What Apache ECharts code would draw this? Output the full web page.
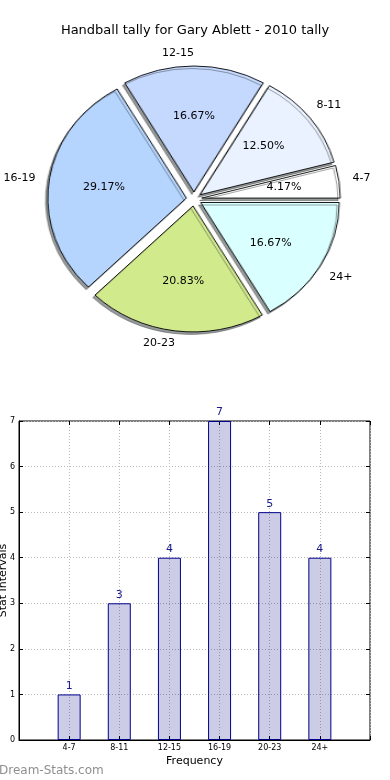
<!DOCTYPE html>
<html><head><meta charset="utf-8">
<script src="https://cdn.jsdelivr.net/npm/echarts@6/dist/echarts.min.js"></script>
<style>
html,body{margin:0;padding:0;background:#fff}
#wrap{position:relative;width:390px;height:780px;overflow:hidden}
#pie{position:absolute;left:0;top:0;width:390px;height:400px;transform:scaleX(1.1);transform-origin:194px 199px;z-index:0}
#c{position:absolute;left:0;top:0;width:390px;height:780px;z-index:1}
</style>
</head><body><div id="wrap"><div id="pie"></div><div id="c"></div></div>
<script>
const categories = ['4-7','8-11','12-15','16-19','20-23','24+'];
const counts = [1,3,4,7,5,4];
const sliceColors = ['#ffffff','#eaf1ff','#c5d9ff','#b5d5ff','#d1ea8c','#d9ffff'];
const yTicks = [0,1,2,3,4,5,6,7];
const titleText = 'Handball tally for Gary Ablett - 2010 tally';

const total = counts.reduce((a,b)=>a+b,0);
const FONT = 'DejaVu Sans';
const CX = 194, CY = 199;
const RY = 126;          // vertical radius of the pie in px
const SX = 1.1;          // horizontal stretch (pie drawn as ellipse)
const OFF = 7;           // explode offset in px (vertical units)
const EXPL = OFF / RY;   // explode in radius units

// mid angle of each slice (degrees, counter-clockwise from 3 o'clock)
const midAngles = [];
{ let cum = 0; counts.forEach(v => { midAngles.push((cum + v/2) / total * 360); cum += v; }); }
function ellipseR(deg, a, b){
  const t = deg * Math.PI / 180, c = Math.cos(t), s = Math.sin(t);
  return 1 / Math.sqrt(c*c/(a*a) + s*s/(b*b));
}
const NAME_BASE = 100, PCT_BASE = 40;
const nameData = categories.map((c,i)=>({name:c, value:counts[i],
  labelLine:{length: ellipseR(midAngles[i], (1.1+EXPL)*RY*SX, (1.1+EXPL)*RY) - NAME_BASE, length2:0}}));
const pctData = categories.map((c,i)=>({name:c, value:counts[i],
  labelLine:{length: ellipseR(midAngles[i], (0.6+EXPL)*RY*SX, (0.6+EXPL)*RY) - PCT_BASE, length2:0}}));
const pieData = categories.map((c,i)=>({name:c, value:counts[i], selected:true,
  itemStyle:{color:sliceColors[i]}}));

// ---- the pie wedges (drawn in a horizontally stretched layer) ----
const pieChart = echarts.init(document.getElementById('pie'), null, {renderer:'canvas'});
pieChart.setOption({
  animation:false,
  series:[{type:'pie', center:[CX,CY], radius:RY, startAngle:0, clockwise:false,
     selectedMode:'multiple', selectedOffset:OFF, avoidLabelOverlap:false,
     emphasis:{disabled:true}, silent:true,
     itemStyle:{borderColor:'#000', borderWidth:0.9, shadowColor:'rgba(50,55,55,0.5)', shadowBlur:0, shadowOffsetX:-2, shadowOffsetY:2.5},
     select:{itemStyle:{borderColor:'#000', borderWidth:0.9}},
     label:{show:false}, labelLine:{show:false},
     data:pieData}]
});

// ---- title, pie labels and the bar chart ----
const chart = echarts.init(document.getElementById('c'), null, {renderer:'canvas'});
const transparentPie = {type:'pie', center:[CX,CY], startAngle:0, clockwise:false,
     avoidLabelOverlap:false, emphasis:{disabled:true}, silent:true,
     itemStyle:{color:'rgba(0,0,0,0)', borderWidth:0}};
chart.setOption({
  animation:false,
  backgroundColor:'transparent',
  title:{text:titleText, left:'center', top:19,
    textStyle:{fontFamily:FONT, fontSize:13, fontWeight:'normal', color:'#000'}},
  graphic:[{type:'text', left:-1, top:765, silent:true,
    style:{text:'Dream-Stats.com', fill:'#8f8f8f', font:'12px "'+FONT+'"'}}],
  grid:{left:19, top:421, width:351, height:319, outerBoundsMode:'none', containLabel:false,
    show:true, borderColor:'#000', borderWidth:1, backgroundColor:'transparent'},
  xAxis:[{type:'value', min:-1, max:6, interval:1, position:'bottom',
    name:'Frequency', nameLocation:'middle', nameGap:16,
    nameTextStyle:{fontFamily:FONT, fontSize:11, color:'#000'},
    axisLine:{show:true, onZero:false, lineStyle:{color:'#000'}},
    axisTick:{show:true, inside:true, length:4, lineStyle:{color:'#000'}},
    axisLabel:{fontFamily:FONT, fontSize:8, color:'#000', margin:4,
      formatter:v=> (categories[v] !== undefined ? categories[v] : '')},
    splitLine:{show:true, lineStyle:{color:'#b8b8b8', type:[1,2], width:1}}},
    {type:'value', min:-1, max:6, interval:1, position:'top',
    axisLine:{show:false, onZero:false}, axisTick:{show:true, inside:true, length:4, lineStyle:{color:'#000'}},
    axisLabel:{show:false}, splitLine:{show:false}}],
  yAxis:[{type:'value', min:0, max:7, interval:1, position:'left',
    name:'Stat Intervals', nameLocation:'middle', nameGap:10, nameRotate:90, nameMoveOverlap:false,
    nameTextStyle:{fontFamily:FONT, fontSize:11, color:'#000'},
    axisLine:{show:true, onZero:false, lineStyle:{color:'#000'}},
    axisTick:{show:true, inside:true, length:4, lineStyle:{color:'#000'}},
    axisLabel:{fontFamily:FONT, fontSize:8, color:'#000', margin:4,
      formatter:v=> yTicks.includes(v) ? String(v) : ''},
    splitLine:{show:true, lineStyle:{color:'#b8b8b8', type:[1,2], width:1}}},
    {type:'value', min:0, max:7, interval:1, position:'right',
    axisLine:{show:false, onZero:false}, axisTick:{show:true, inside:true, length:4, lineStyle:{color:'#000'}},
    axisLabel:{show:false}, splitLine:{show:false}}],
  series:[
    Object.assign({}, transparentPie, {radius:NAME_BASE,
     label:{show:true, position:'outside', fontFamily:FONT, fontSize:11, color:'#000', distanceToLabelLine:0,
       formatter:p=>p.name},
     labelLine:{show:false, length2:0},
     labelLayout:p=>({align: Math.cos(midAngles[p.dataIndex]*Math.PI/180) > 1e-9 ? 'left' : 'right', verticalAlign:'middle'}),
     data:nameData}),
    Object.assign({}, transparentPie, {radius:PCT_BASE,
     label:{show:true, position:'outside', fontFamily:FONT, fontSize:11, color:'#000', distanceToLabelLine:0,
       formatter:p=>(p.value/total*100).toFixed(2)+'%'},
     labelLine:{show:false, length2:0},
     labelLayout:()=>({align:'center', verticalAlign:'middle'}),
     data:pctData}),
    {type:'bar', xAxisIndex:0, yAxisIndex:0, barWidth:23,
     data:counts.map((v,i)=>[i,v]),
     itemStyle:{color:'rgba(0,0,128,0.2)', borderColor:'#00008b', borderWidth:1},
     label:{show:true, position:'top', distance:3, fontFamily:FONT, fontSize:11, color:'#1a1a8c',
       formatter:p=>String(p.value[1])},
     emphasis:{disabled:true}, silent:true}
  ]
});
</script></body></html>
